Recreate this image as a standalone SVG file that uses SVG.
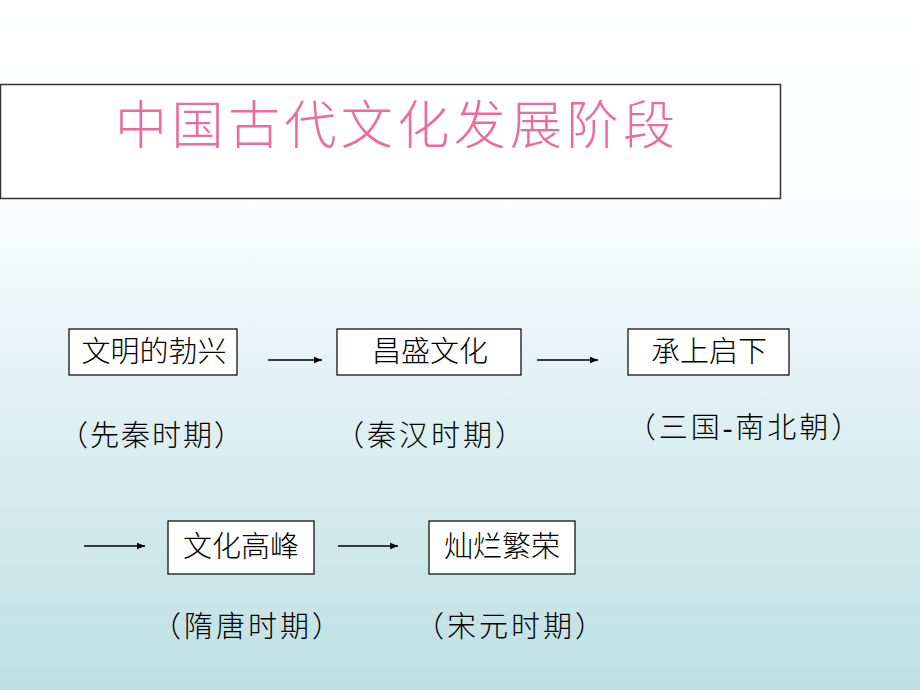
<svg xmlns="http://www.w3.org/2000/svg" width="920" height="690" viewBox="0 0 920 690">
<defs>
<linearGradient id="bg" x1="0" y1="0" x2="0" y2="1">
<stop offset="0" stop-color="#ffffff"/>
<stop offset="0.28" stop-color="#fcfeff"/>
<stop offset="0.5" stop-color="#e8f4f6"/>
<stop offset="1" stop-color="#bde0e4"/>
</linearGradient>
<marker id="ah" viewBox="0 0 10 10" refX="10" refY="5" markerWidth="8" markerHeight="8" markerUnits="userSpaceOnUse" orient="auto">
<path d="M0,1 L10,5 L0,9 z" fill="#000"/>
</marker>
</defs>
<style>
.box{fill:#ffffff;stroke:#000;stroke-width:1.2}
.t{font-family:"Liberation Serif","Noto Sans CJK SC",serif;font-size:29px;font-weight:300;fill:#000;text-anchor:middle;dominant-baseline:central}
.lbl{font-family:"Liberation Serif","Noto Sans CJK SC",serif;font-size:29px;font-weight:300;fill:#000;text-anchor:middle;dominant-baseline:central;letter-spacing:2px}
.arr{stroke:#000;stroke-width:1.3;fill:none;marker-end:url(#ah)}
</style>
<rect x="0" y="0" width="920" height="690" fill="url(#bg)"/>
<g id="title">
<rect x="0.5" y="84.5" width="780" height="114" fill="#ffffff" stroke="#333" stroke-width="1.5"/>
<text x="115" y="121" font-family="'Noto Sans CJK SC',sans-serif" font-size="52" font-weight="300" fill="#ee6a9c" dominant-baseline="central" textLength="560" lengthAdjust="spacing">中国古代文化发展阶段</text>
</g>
<g id="connectors">
<line class="arr" x1="268" y1="360" x2="322" y2="360"/>
<line class="arr" x1="537" y1="360" x2="598" y2="360"/>
<line class="arr" x1="84" y1="546" x2="145" y2="546"/>
<line class="arr" x1="338" y1="546" x2="398" y2="546"/>
</g>
<g id="n1">
<rect class="box" x="69" y="329" width="168" height="46"/>
<text class="t" x="154" y="352">文明的勃兴</text>
</g>
<g id="n2">
<rect class="box" x="337" y="329" width="184" height="46"/>
<text class="t" x="430" y="352">昌盛文化</text>
</g>
<g id="n3">
<rect class="box" x="628" y="329" width="161" height="46"/>
<text class="t" x="709" y="352">承上启下</text>
</g>
<g id="n4">
<rect class="box" x="168" y="521" width="146" height="53"/>
<text class="t" x="241" y="547">文化高峰</text>
</g>
<g id="n5">
<rect class="box" x="429" y="521" width="146" height="53"/>
<text class="t" x="502" y="547">灿烂繁荣</text>
</g>
<g id="labels">
<text class="lbl" x="152" y="436">（先秦时期）</text>
<text class="lbl" x="431" y="436" style="letter-spacing:3px">（秦汉时期）</text>
<text class="lbl" x="745" y="428" style="letter-spacing:3px">（三国-南北朝）</text>
<text class="lbl" x="248" y="627" style="letter-spacing:3px">（隋唐时期）</text>
<text class="lbl" x="511" y="627" style="letter-spacing:3px">（宋元时期）</text>
</g>
</svg>
